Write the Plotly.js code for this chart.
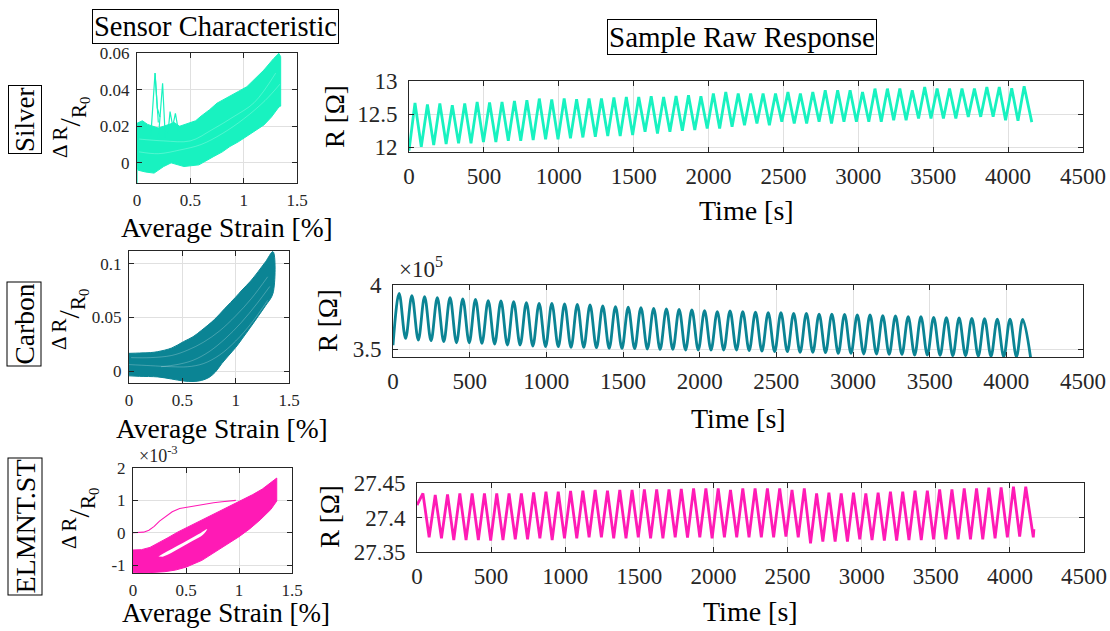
<!DOCTYPE html>
<html><head><meta charset="utf-8">
<script src="https://cdn.plot.ly/plotly-3.0.1.min.js"></script>
<style>html,body{margin:0;padding:0;background:#fff;font-family:'Liberation Serif','DejaVu Serif',serif}#chart{width:1110px;height:631px}</style>
</head><body><div id="chart"></div>
<script>
// ---------- DATA ----------
// shared cycle times [s]
const peakT = [40,123,206,289,372,455,538,621,704,787,870,953,1036,1119,1202,1285,1368,1451,1534,1617,1700,1783,1866,1949,2032,2115,2198,2281,2364,2447,2530,2613,2696,2779,2862,2945,3028,3111,3194,3277,3360,3443,3526,3609,3692,3775,3858,3941,4024,4107];
const troughT = [82,165,248,331,414,497,580,663,746,829,912,995,1078,1161,1244,1327,1410,1493,1576,1659,1742,1825,1908,1991,2074,2157,2240,2323,2406,2489,2572,2655,2738,2821,2904,2987,3070,3153,3236,3319,3402,3485,3568,3651,3734,3817,3900,3983,4066,4158];

// Silver raw response [Ohm]
const silverStart = [0, 11.95];
const silverPeak = [12.67,12.645,12.66,12.635,12.66,12.685,12.675,12.685,12.70,12.71,12.735,12.72,12.735,12.725,12.735,12.735,12.75,12.76,12.76,12.77,12.76,12.775,12.785,12.77,12.81,
  12.835,12.81,12.81,12.81,12.81,12.835,12.81,12.835,12.86,12.86,12.86,12.835,12.885,12.885,12.885,12.86,12.91,12.885,12.885,12.885,12.885,12.91,12.91,12.89,12.92];
const silverTrough = [12.01,12.035,12.05,12.06,12.06,12.08,12.08,12.10,12.10,12.11,12.12,12.12,12.135,12.15,12.16,12.17,12.17,12.185,12.235,12.21,12.235,12.25,12.26,12.285,12.285,
  12.31,12.335,12.36,12.335,12.385,12.36,12.36,12.385,12.36,12.385,12.385,12.385,12.385,12.41,12.41,12.435,12.435,12.435,12.435,12.46,12.46,12.46,12.41,12.40,12.38];

// Carbon raw response [Ohm]
const carbonStart = [0, 353000];
const carbonPeak = [393500,391700,390900,390100,390100,389100,388800,387800,387500,387000,386200,385700,385700,385200,384900,384400,383600,383100,382600,382300,381800,381250,381000,380500,379900,379200,
  379700,379200,378800,378400,378400,377900,377900,377300,377300,377100,376600,376600,376000,375800,375300,375300,374700,374500,374200,374000,373700,373400,373400,373200];
const carbonTrough = [358300,357000,356500,355700,354900,354900,354400,353900,353100,353100,352300,351800,351800,351300,351300,351000,350500,350500,350300,350000,349700,349700,349200,349200,349200,349200,
  349200,348700,348400,347900,347900,347400,347400,347100,346600,346600,346100,346100,345800,345800,345300,345300,345100,344800,344800,344500,344300,344000,344000,343500];

// ELMNT.ST raw response [Ohm]
const elmntStart = [0, 27.418];
const elmntPeak = [27.4350,27.4326,27.4336,27.4350,27.4350,27.4350,27.4350,27.4350,27.4350,27.4365,27.4374,27.4374,27.4384,27.4389,27.4399,27.4389,27.4399,27.4399,27.4408,27.4408,27.4408,27.4413,27.4423,27.4423,27.4423,27.4399,
  27.4423,27.4423,27.4423,27.4423,27.4399,27.4423,27.4350,27.4360,27.4350,27.4360,27.4350,27.4360,27.4374,27.4374,27.4389,27.4389,27.4408,27.4408,27.4423,27.4423,27.4432,27.4437,27.4447,27.4447];
const elmntTrough = [27.3713,27.3698,27.3674,27.3674,27.3674,27.3664,27.3674,27.3684,27.3684,27.3698,27.3674,27.3698,27.3698,27.3713,27.3713,27.3698,27.3698,27.3713,27.3698,27.3698,27.3713,27.3708,27.3713,27.3698,27.3713,
  27.3713,27.3713,27.3713,27.3713,27.3722,27.3713,27.3626,27.3650,27.3650,27.3650,27.3684,27.3674,27.3664,27.3664,27.3674,27.3674,27.3684,27.3684,27.3684,27.3684,27.3684,27.3698,27.3713,27.3722,27.3713];
const elmntTailT = [4162];
const elmntTailV = [27.383];

// Silver characteristic: band envelopes (strain %, dR/R0)
const silverUpX = [0,0.05,0.10,0.15,0.20,0.25,0.30,0.35,0.40,0.48,0.55,0.60,0.68,0.75,0.87,0.95,1.03,1.11,1.19,1.28,1.33,1.347];
const silverUpY = [0.0216,0.023,0.021,0.020,0.019,0.020,0.021,0.022,0.020,0.0216,0.023,0.0255,0.029,0.0326,0.0362,0.039,0.0416,0.046,0.0507,0.0569,0.0598,0.058];
const silverLoX = [0,0.01,0.08,0.16,0.25,0.32,0.44,0.58,0.65,0.72,0.80,0.87,0.95,1.03,1.11,1.19,1.26,1.33,1.347];
const silverLoY = [-0.002,-0.004,-0.005,-0.0056,-0.002,0.0,-0.002,-0.0011,0.001,0.0035,0.006,0.0089,0.0115,0.0144,0.0175,0.0207,0.025,0.0305,0.031];
const silverSpikeX = [[0.13,0.169,0.19,0.215],[0.169,0.2],[0.2,0.24,0.265],[0.29,0.31,0.335,0.36,0.39],[0,0]];
const silverSpikeY = [[0.015,0.049,0.03,0.025],[0.049,0.022],[0.013,0.0435,0.014],[0.016,0.028,0.02,0.027,0.017],[0.004,-0.011]];
const silverStreakX = [[0.02,0.2,0.4,0.6,0.8,1.0,1.2,1.34],[0.02,0.25,0.5,0.7,0.9,1.1,1.3]];
const silverStreakY = [[0.006,0.005,0.007,0.010,0.016,0.024,0.034,0.043],[0.013,0.012,0.012,0.018,0.025,0.033,0.049]];

// Carbon characteristic
const carbonUpX = [0,0.1,0.2,0.27,0.4,0.51,0.6,0.68,0.8,0.9,1.0,1.06,1.14,1.21,1.28,1.35];
const carbonUpY = [0.0165,0.0168,0.0172,0.0181,0.0215,0.0274,0.032,0.038,0.048,0.0586,0.069,0.0757,0.084,0.0928,0.102,0.1115];
const carbonLoX = [0,0.1,0.27,0.4,0.51,0.6,0.68,0.75,0.81,0.87,0.93,1.0,1.06,1.14,1.21,1.28,1.35];
const carbonLoY = [-0.0045,-0.005,-0.0055,-0.0075,-0.0093,-0.0098,-0.0088,-0.006,-0.001,0.007,0.014,0.022,0.030,0.041,0.051,0.061,0.0726];
const carbonStreakX = [[0.02,0.2,0.4,0.55,0.7,0.85,1.0,1.15,1.3],[0.3,0.45,0.6,0.75,0.9,1.05,1.2,1.32],[0.0,0.2,0.4,0.55,0.7,0.85,1.0,1.15,1.3]];
const carbonStreakY = [[0.0125,0.0125,0.0145,0.0195,0.027,0.0375,0.0515,0.068,0.088],[0.004,0.006,0.010,0.018,0.030,0.045,0.063,0.079],[0.006,0.005,0.004,0.004,0.007,0.015,0.028,0.045,0.066]];

// ELMNT.ST characteristic
const elUpX = [0,0.08,0.16,0.25,0.33,0.42,0.5,0.58,0.69,0.8,0.94,1.05,1.13,1.22,1.3,1.356];
const elUpY = [-0.00053,-0.00052,-0.00045,-0.0003,-0.00015,0.00002,0.00015,0.00028,0.00045,0.00062,0.00087,0.00105,0.00118,0.00135,0.00155,0.00169];
const elLoX = [0,0.15,0.3,0.4,0.5,0.65,0.79,0.9,1.0,1.1,1.2,1.3,1.356];
const elLoY = [-0.00122,-0.00123,-0.0012,-0.00115,-0.00106,-0.00085,-0.00058,-0.00033,-0.00012,0.00012,0.0004,0.00072,0.00098];
const elHoleX = [0.24,0.32,0.42,0.52,0.62,0.70,0.66,0.56,0.46,0.36,0.28];
const elHoleY = [-0.00073,-0.00058,-0.0004,-0.00022,-0.00004,0.00012,-0.00006,-0.00025,-0.00044,-0.00062,-0.00074];
const elLineX = [0,0.05,0.1,0.15,0.2,0.25,0.31,0.37,0.44,0.52,0.6,0.68,0.76,0.84,0.92,0.97];
const elLineY = [0.0,0.0,0.00002,0.00008,0.0002,0.00036,0.0005,0.00065,0.00075,0.0008,0.00085,0.00089,0.00093,0.00096,0.00098,0.001];

// ---------- STYLE ----------
const C_SILVER = '#18F2C0', C_CARBON = '#0B8494', C_ELMNT = '#FF1AB5';
const F = 'Liberation Serif, DejaVu Serif';
const W = 1110, H = 631;
const X = p => p / W, Y = p => 1 - p / H;

function wave(start, pT, pV, tT, tV, extraT, extraV) {
  const x = [start[0]], y = [start[1]];
  for (let i = 0; i < pT.length; i++) {
    x.push(pT[i]); y.push(pV[i]);
    if (i < tT.length) { x.push(tT[i]); y.push(tV[i]); }
  }
  if (extraT) { x.push(...extraT); y.push(...extraV); }
  return {x, y};
}
function band(ux, uy, lx, ly) {
  return {x: ux.concat(lx.slice().reverse()), y: uy.concat(ly.slice().reverse())};
}

const traces = [];
let b = band(silverUpX, silverUpY, silverLoX, silverLoY);
traces.push({x:b.x, y:b.y, xaxis:'x', yaxis:'y', mode:'lines', fill:'toself', fillcolor:C_SILVER, line:{color:C_SILVER, width:1}});
silverStreakX.forEach((sx, i) => traces.push({x:sx, y:silverStreakY[i], xaxis:'x', yaxis:'y', mode:'lines', line:{color:'rgba(255,255,255,0.35)', width:0.7, shape:'spline'}}));
silverSpikeX.forEach((sx, i) => traces.push({x:sx, y:silverSpikeY[i], xaxis:'x', yaxis:'y', mode:'lines', line:{color:C_SILVER, width:1.2}}));
let w = wave(silverStart, peakT, silverPeak, troughT, silverTrough);
traces.push({x:w.x, y:w.y, xaxis:'x2', yaxis:'y2', mode:'lines', line:{color:C_SILVER, width:2.8}});
b = band(carbonUpX, carbonUpY, carbonLoX, carbonLoY);
traces.push({x:b.x, y:b.y, xaxis:'x3', yaxis:'y3', mode:'lines', fill:'toself', fillcolor:C_CARBON, line:{color:C_CARBON, width:1, shape:'spline'}});
carbonStreakX.forEach((sx, i) => traces.push({x:sx, y:carbonStreakY[i], xaxis:'x3', yaxis:'y3', mode:'lines', line:{color:'rgba(255,255,255,0.3)', width:0.8, shape:'spline'}}));
w = wave(carbonStart, peakT, carbonPeak, troughT, carbonTrough);
traces.push({x:w.x, y:w.y, xaxis:'x4', yaxis:'y4', mode:'lines', line:{color:C_CARBON, width:2.8, shape:'spline', smoothing:1}});
b = band(elUpX, elUpY, elLoX, elLoY);
traces.push({x:b.x, y:b.y, xaxis:'x5', yaxis:'y5', mode:'lines', fill:'toself', fillcolor:C_ELMNT, line:{color:C_ELMNT, width:1}});
traces.push({x:elHoleX, y:elHoleY, xaxis:'x5', yaxis:'y5', mode:'lines', fill:'toself', fillcolor:'#ffffff', line:{color:'rgba(255,255,255,0)', width:0, shape:'spline'}});
traces.push({x:elLineX, y:elLineY, xaxis:'x5', yaxis:'y5', mode:'lines', line:{color:C_ELMNT, width:1.1}});
w = wave(elmntStart, peakT, elmntPeak, troughT, elmntTrough, elmntTailT, elmntTailV);
traces.push({x:w.x, y:w.y, xaxis:'x6', yaxis:'y6', mode:'lines', line:{color:C_ELMNT, width:2.8}});

function ax(d0, d1, range, fs, standoff, anchor, extra) {
  return Object.assign({
    domain:[d0, d1], range, anchor, showline:true, linecolor:'#262626', linewidth:1, mirror:'ticks',
    ticks:'inside', ticklen:5, tickwidth:1, tickcolor:'#262626', showgrid:true, gridcolor:'#e0e0e0', gridwidth:1,
    zeroline:false, fixedrange:true, ticklabelstandoff:standoff,
    tickfont:{family:F, size:fs, color:'#262626'}
  }, extra || {});
}
const xs = p => [X(p[0]), X(p[1])];
const ys = p => [Y(p[1]), Y(p[0])];
function xa(px, range, fs, so, anchor, extra) { const d = xs(px); return ax(d[0], d[1], range, fs, so, anchor, extra); }
function ya(py, range, fs, so, anchor, extra) { const d = ys(py); return ax(d[0], d[1], range, fs, so, anchor, extra); }

const charX = {tickvals:[0,0.5,1,1.5], ticktext:['0','0.5','1','1.5']};
const rawX = {tickvals:[0,500,1000,1500,2000,2500,3000,3500,4000,4500]};

const layout = {
  width:W, height:H, margin:{l:0, r:0, t:0, b:0}, showlegend:false,
  paper_bgcolor:'#fff', plot_bgcolor:'#fff',
  font:{family:F},
  xaxis:  xa([137,297], [0,1.5], 17, 2, 'y', charX),
  yaxis:  ya([53,183], [-0.011,0.06], 17, 3, 'x', {tickvals:[0,0.02,0.04,0.06], ticktext:['0','0.02','0.04','0.06']}),
  xaxis2: xa([409,1083], [0,4500], 23, 3, 'y2', rawX),
  yaxis2: ya([81,152], [11.93,13.0], 23, 6, 'x2', {tickvals:[12,12.5,13], ticktext:['12','12.5','13']}),
  xaxis3: xa([129,289], [0,1.5], 17, 2, 'y3', charX),
  yaxis3: ya([251,383], [-0.0112,0.1121], 17, 3, 'x3', {tickvals:[0,0.05,0.1], ticktext:['0','0.05','0.1']}),
  xaxis4: xa([393,1083], [0,4500], 23, 3, 'y4', rawX),
  yaxis4: ya([285,357], [343750,400000], 23, 6, 'x4', {tickvals:[350000,400000], ticktext:['3.5','4']}),
  xaxis5: xa([133,292], [0,1.5], 17, 2, 'y5', charX),
  yaxis5: ya([468,573], [-0.00124,0.002], 17, 3, 'x5', {tickvals:[-0.001,0,0.001,0.002], ticktext:['-1','0','1','2']}),
  xaxis6: xa([417,1084], [0,4500], 23, 3, 'y6', rawX),
  yaxis6: ya([483,552], [27.35,27.45], 23, 6, 'x6', {tickvals:[27.35,27.4,27.45], ticktext:['27.35','27.4','27.45']}),
  annotations: []
};

function ann(text, px, py, size, extra) {
  return Object.assign({text, x:X(px), y:Y(py), xref:'paper', yref:'paper', xanchor:'center', yanchor:'middle',
    showarrow:false, font:{family:F, size, color:'#000'}}, extra || {});
}
const boxed = {bordercolor:'#000', borderwidth:1, borderpad:1, bgcolor:'#fff'};
const A = layout.annotations;
A.push(ann('Sensor Characteristic', 215, 26, 28.5, boxed));
A.push(ann('Sample Raw Response', 742, 37, 29, boxed));
A.push(ann('Silver', 25, 120, 27, Object.assign({textangle:-90}, boxed)));
A.push(ann('Carbon', 24.5, 324, 27.5, Object.assign({textangle:-90}, boxed)));
A.push(ann('ELMNT.ST', 24.5, 527, 28, Object.assign({textangle:-90}, boxed)));
const fracLabel = '<sup>Δ R</sup>/<sub>R<sub>0</sub></sub>';
[[70,128],[69,320],[79,519]].forEach(p => {
  A.push(ann(fracLabel, p[0], p[1], 30, {textangle:-90}));
});
A.push(ann('Average Strain [%]', 227, 227, 27.5));
A.push(ann('Average Strain [%]', 222, 428, 27.5));
A.push(ann('Average Strain [%]', 226, 613, 27));
A.push(ann('Time [s]', 746, 210, 28));
A.push(ann('Time [s]', 738, 418, 28));
A.push(ann('Time [s]', 750, 611, 28));
A.push(ann('R [Ω]', 335, 117, 27, {textangle:-90}));
A.push(ann('R [Ω]', 328, 321, 27, {textangle:-90}));
A.push(ann('R [Ω]', 330, 517, 27, {textangle:-90}));
A.push(ann('×10<sup>5</sup>', 421, 267, 23, {font:{family:F, size:23, color:'#262626'}}));
A.push(ann('×10<sup>-3</sup>', 158, 454, 18, {font:{family:F, size:18, color:'#262626'}}));

Plotly.newPlot('chart', traces, layout, {displayModeBar:false, staticPlot:true});
</script></body></html>
